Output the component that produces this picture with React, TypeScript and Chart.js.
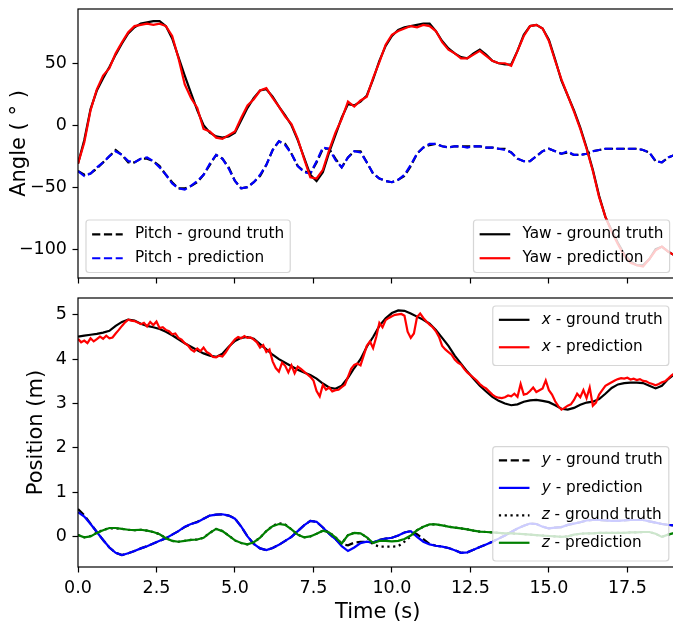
import React, { useEffect, useRef } from 'react';
import { Chart, registerables } from 'chart.js';

Chart.register(...registerables);

const FONT = '"DejaVu Sans", "Liberation Sans", sans-serif';

// ---------------- data ----------------
const timeTicks = [0, 2.5, 5, 7.5, 10, 12.5, 15, 17.5];
const angleTicks = [-100, -50, 0, 50];
const positionTicks = [0, 1, 2, 3, 4, 5];

// sample times (s)
const timeCoarse = Array.from({ length: 97 }, (_, i) => Math.round(i * 2) / 10);
const timeFine = Array.from({ length: 193 }, (_, i) => i / 10);

const yawTruth = [
  -31, -12, 13, 28, 38, 47, 57, 66, 74, 79,
  82, 83, 84, 84, 80, 70, 55, 40, 26, 12,
  0, -6, -9, -10, -9, -6, 4, 14, 22, 28,
  29, 23, 15, 8, 0, -12, -26, -40, -45, -38,
  -22, -8, 6, 17, 16, 19, 24, 37, 52, 64,
  72, 77, 79, 80, 81, 82, 82, 76, 68, 62,
  58, 55, 54, 58, 61, 57, 52, 50, 49, 49,
  60, 73, 80, 81, 78, 69, 53, 36, 24, 12,
  -2, -18, -36, -57, -74, -85, -95, -104, -110, -113,
  -113, -108, -100, -98, -102, -105, -107,
];
const yawPred = [
  -31, -14, 12, 29, 40, 46, 58, 67, 75, 80,
  81, 82, 81, 82, 80, 72, 54, 33, 22, 14,
  -3, -5, -10, -11, -8, -5, 6, 16, 21, 28,
  30, 22, 15, 7, 1, -11, -27, -42, -43, -36,
  -20, -6, 5, 19, 15, 20, 23, 38, 51, 65,
  73, 76, 78, 80, 79, 81, 80, 76, 67, 61,
  58, 54, 54, 57, 60, 56, 52, 50, 50, 48,
  60, 72, 80, 81, 78, 68, 52, 37, 24, 11,
  -3, -19, -37, -58, -74, -86, -96, -105, -111, -113,
  -114, -108, -101, -98, -102, -105, -107,
];
const pitchTruth = [
  -37, -40, -39, -35, -30, -25, -20, -24, -30, -30,
  -27, -27, -29, -33, -40, -46, -51, -51, -49, -46,
  -40, -32, -24, -27, -34, -45, -51, -50, -46, -41,
  -32, -20, -13, -15, -23, -33, -37, -39, -30, -19,
  -19, -27, -34, -26, -21, -21, -30, -39, -43, -45,
  -46, -44, -41, -33, -23, -18, -16, -15, -17, -18,
  -17, -17, -17, -17, -17, -18, -18, -19, -19, -22,
  -27, -29, -29, -25, -21, -19, -21, -23, -22, -24,
  -24, -23, -21, -20, -19, -19, -19, -19, -19, -19,
  -20, -22, -29, -30, -26, -24, -23,
];
const pitchPred = [
  -37, -41, -39, -34, -30, -25, -21, -24, -29, -30,
  -27, -26, -29, -34, -40, -47, -51, -52, -49, -45,
  -40, -31, -24, -27, -35, -45, -51, -50, -46, -40,
  -32, -20, -13, -16, -23, -33, -38, -39, -29, -18,
  -19, -28, -34, -26, -21, -22, -30, -39, -43, -45,
  -46, -44, -40, -32, -23, -18, -15, -15, -17, -18,
  -17, -17, -18, -17, -17, -18, -18, -19, -20, -22,
  -27, -29, -29, -25, -21, -19, -21, -23, -21, -24,
  -24, -23, -21, -20, -19, -19, -19, -19, -19, -19,
  -20, -22, -29, -30, -26, -24, -23,
];

const xTruth = [
  4.51, 4.53, 4.55, 4.57, 4.6, 4.64, 4.75, 4.84, 4.89, 4.87,
  4.8, 4.75, 4.72, 4.68, 4.62, 4.54, 4.45, 4.36, 4.28, 4.2,
  4.13, 4.08, 4.05, 4.12, 4.28, 4.41, 4.48, 4.5, 4.46, 4.34,
  4.22, 4.1, 4.0, 3.92, 3.84, 3.76, 3.7, 3.64, 3.56, 3.45,
  3.36, 3.33, 3.4, 3.58, 3.8, 4.0, 4.28, 4.5, 4.75, 4.92,
  5.04, 5.1, 5.09, 5.03, 4.96, 4.89, 4.8, 4.66, 4.48, 4.3,
  4.08, 3.9, 3.72, 3.56, 3.4, 3.27, 3.15, 3.06, 3.0, 2.96,
  2.98, 3.04, 3.07, 3.08, 3.06, 3.03, 2.96, 2.88, 2.86, 2.9,
  2.97, 3.02, 3.04, 3.1, 3.22, 3.35, 3.43, 3.46, 3.47, 3.47,
  3.46, 3.4, 3.34, 3.4, 3.55, 3.66, 3.72,
];
const xPred = [
  4.46, 4.38, 4.42, 4.36, 4.47, 4.4, 4.45, 4.51, 4.46, 4.53,
  4.47, 4.49, 4.58, 4.66, 4.75, 4.83, 4.89, 4.87, 4.86, 4.83,
  4.79, 4.82, 4.74, 4.84, 4.77, 4.85, 4.7, 4.72, 4.66, 4.63,
  4.56, 4.58, 4.48, 4.44, 4.36, 4.31, 4.22, 4.17, 4.24, 4.18,
  4.26, 4.16, 4.12, 4.05, 4.04, 4.08, 4.06, 4.15, 4.26, 4.36,
  4.45, 4.5, 4.47, 4.52, 4.48, 4.49, 4.44, 4.38, 4.26, 4.32,
  4.16, 4.22, 3.95, 3.8, 3.72, 3.92, 3.85, 3.7, 3.86, 3.68,
  3.83, 3.78, 3.72, 3.66, 3.6, 3.52, 3.28, 3.16, 3.42, 3.31,
  3.36, 3.27, 3.3, 3.31, 3.37, 3.42, 3.6, 3.78, 3.87, 3.9,
  3.86, 4.08, 4.3, 4.4, 4.25, 4.5, 4.82, 4.72, 4.88, 4.93,
  4.97, 5.0, 5.01, 5.02, 4.98, 4.62, 4.48, 4.58, 4.95, 5.03,
  4.93, 4.85, 4.78, 4.72, 4.63, 4.5, 4.3, 4.22, 4.16, 4.1,
  3.99, 3.92, 3.88, 3.78, 3.7, 3.64, 3.58, 3.52, 3.44, 3.38,
  3.34, 3.27, 3.2, 3.15, 3.13, 3.12, 3.14, 3.18, 3.16, 3.22,
  3.15, 3.44, 3.2, 3.22, 3.28, 3.36, 3.26, 3.3, 3.34, 3.52,
  3.3, 3.2, 3.05, 2.94, 2.86, 2.9, 2.95, 2.98, 3.08, 3.22,
  3.14, 3.3, 3.12, 3.36, 2.95, 3.02, 3.2, 3.3, 3.4, 3.44,
  3.48, 3.52, 3.55, 3.57, 3.56, 3.58, 3.54, 3.56, 3.53, 3.55,
  3.51, 3.5, 3.46, 3.44, 3.41, 3.44, 3.48, 3.5, 3.56, 3.63,
  3.68, 3.7, 3.72,
];
const yTruth = [
  0.62, 0.48, 0.29, 0.1, -0.08, -0.25, -0.37, -0.42, -0.38, -0.33,
  -0.27, -0.22, -0.16, -0.1, -0.04, 0.04, 0.12, 0.21, 0.28, 0.33,
  0.4, 0.47, 0.49, 0.5, 0.47, 0.41, 0.22, 0.0, -0.17, -0.27,
  -0.31, -0.26, -0.19, -0.1, -0.01, 0.12, 0.25, 0.35, 0.33, 0.2,
  0.06, -0.06, -0.18, -0.2, -0.14, -0.12, -0.12, -0.14, -0.08, -0.05,
  -0.03, 0.02, 0.09, 0.12, 0.05, -0.06, -0.17, -0.21, -0.23, -0.26,
  -0.31, -0.37, -0.36, -0.3, -0.24, -0.18, -0.12, -0.05, 0.02, 0.1,
  0.18, 0.24, 0.29, 0.28, 0.22, 0.18, 0.2, 0.21, 0.26, 0.29,
  0.32, 0.36, 0.37, 0.37, 0.36, 0.35, 0.35, 0.36, 0.37, 0.37,
  0.37, 0.34, 0.31, 0.28, 0.26, 0.25, 0.25,
];
const yPred = [
  0.55, 0.45, 0.28, 0.1, -0.08, -0.25, -0.37, -0.42, -0.38, -0.33,
  -0.27, -0.22, -0.16, -0.1, -0.04, 0.04, 0.12, 0.22, 0.28, 0.32,
  0.4, 0.47, 0.49, 0.5, 0.47, 0.4, 0.22, 0.0, -0.17, -0.27,
  -0.31, -0.26, -0.19, -0.1, -0.01, 0.12, 0.25, 0.35, 0.33, 0.2,
  0.06, -0.06, -0.22, -0.33, -0.25, -0.15, -0.12, -0.14, -0.08, -0.05,
  -0.03, 0.02, 0.09, 0.12, -0.01, -0.12, -0.18, -0.21, -0.23, -0.26,
  -0.31, -0.37, -0.36, -0.3, -0.24, -0.18, -0.12, -0.05, 0.02, 0.1,
  0.18, 0.24, 0.29, 0.28, 0.22, 0.18, 0.2, 0.21, 0.26, 0.29,
  0.32, 0.36, 0.37, 0.37, 0.36, 0.35, 0.35, 0.36, 0.37, 0.37,
  0.37, 0.34, 0.31, 0.28, 0.26, 0.25, 0.25,
];
const zTruth = [
  0.03, -0.02, 0.01, 0.08, 0.15, 0.18, 0.18, 0.17, 0.15, 0.14,
  0.15, 0.13, 0.1, 0.05, -0.04, -0.1, -0.12, -0.1, -0.08, -0.07,
  -0.03, 0.08, 0.17, 0.12, 0.02, -0.09, -0.15, -0.18, -0.13, -0.03,
  0.12, 0.24, 0.3, 0.27, 0.16, 0.04, -0.02, 0.0, 0.06, 0.13,
  0.1, -0.02, -0.16, 0.03, 0.08, 0.07, -0.02, -0.18, -0.23, -0.23,
  -0.23, -0.22, -0.12, 0.0, 0.14, 0.22, 0.27, 0.27, 0.25, 0.22,
  0.2, 0.18, 0.16, 0.13, 0.11, 0.1, 0.09, 0.08, 0.07, 0.07,
  0.06, 0.05, 0.04, 0.03, 0.02, 0.01, 0.0, -0.01, 0.0, 0.04,
  0.06, 0.07, 0.07, 0.08, 0.08, 0.08, 0.08, 0.08, 0.09, 0.09,
  0.1, 0.1, 0.06, -0.01, 0.04, 0.08, 0.09,
];
const zPred = [
  0.03, -0.02, 0.0, 0.08, 0.14, 0.19, 0.19, 0.17, 0.15, 0.14,
  0.15, 0.13, 0.1, 0.05, -0.04, -0.1, -0.12, -0.1, -0.08, -0.07,
  -0.03, 0.08, 0.17, 0.12, 0.02, -0.09, -0.15, -0.18, -0.13, -0.03,
  0.12, 0.23, 0.28, 0.26, 0.16, 0.04, -0.02, 0.0, 0.06, 0.13,
  0.09, -0.02, -0.16, 0.03, 0.08, 0.07, -0.02, -0.15, -0.1, -0.1,
  -0.11, -0.1, -0.06, 0.02, 0.14, 0.22, 0.27, 0.27, 0.25, 0.22,
  0.2, 0.18, 0.16, 0.13, 0.11, 0.1, 0.09, 0.08, 0.07, 0.07,
  0.06, 0.05, 0.04, 0.03, 0.02, 0.01, 0.0, -0.01, 0.0, 0.04,
  0.06, 0.07, 0.07, 0.08, 0.08, 0.08, 0.08, 0.08, 0.09, 0.09,
  0.1, 0.1, 0.06, -0.01, 0.04, 0.08, 0.09,
];

// ---------------- styling ----------------
const LW = 2.2;
const DASHED = [8.2, 3.6];
const DOTTED = [2.2, 3.6];
const TICK_FONT = 17.5;
const LABEL_FONT = 21;
const LEGEND_FONT = 15.3;
const CANVAS_W = 690;
const X_MAX = 19.1;

type LegendItem = { sym?: string; text: string; color: string; dash: number[] };
type LegendSpec = {
  items: LegendItem[];
  anchor: 'll' | 'lr' | 'ur';
  dx: number;
  dy: number;
  rowH: number;
  yShift: number;
};

const pts = (ts: number[], ys: number[]) => ys.map((y, i) => ({ x: ts[i], y }));

const line = (label: string, ts: number[], ys: number[], color: string, dash: number[]) => ({
  label,
  data: pts(ts, ys),
  borderColor: color,
  backgroundColor: color,
  borderWidth: LW,
  borderDash: dash,
  pointRadius: 0,
  tension: 0,
  fill: false,
  clip: 0,
});

function roundRect(ctx: CanvasRenderingContext2D, x: number, y: number, w: number, h: number, r: number) {
  ctx.beginPath();
  ctx.moveTo(x + r, y);
  ctx.lineTo(x + w - r, y);
  ctx.arcTo(x + w, y, x + w, y + r, r);
  ctx.lineTo(x + w, y + h - r);
  ctx.arcTo(x + w, y + h, x + w - r, y + h, r);
  ctx.lineTo(x + r, y + h);
  ctx.arcTo(x, y + h, x, y + h - r, r);
  ctx.lineTo(x, y + r);
  ctx.arcTo(x, y, x + r, y, r);
  ctx.closePath();
}

const mplPlugin = {
  id: 'mpl',
  afterDraw(chart: any, _args: any, opts: any) {
    const ctx: CanvasRenderingContext2D = chart.ctx;
    const ca = chart.chartArea;
    // axes frame
    ctx.save();
    ctx.strokeStyle = '#000';
    ctx.lineWidth = 1.2;
    ctx.setLineDash([]);
    ctx.strokeRect(ca.left, ca.top, ca.right - ca.left, ca.bottom - ca.top);
    ctx.restore();

    const legends: LegendSpec[] = opts.legends || [];
    const fs = LEGEND_FONT;
    const pad = 0.4 * fs;
    const handleLen = 2 * fs;
    const gap = 0.8 * fs;
    const spacing = 0.5 * fs;
    const normalFont = `${fs}px ${FONT}`;
    const italicFont = `oblique ${fs}px ${FONT}`;
    for (const lg of legends) {
      ctx.save();
      let maxW = 0;
      lg.items.forEach((it) => {
        let w = 0;
        if (it.sym) {
          ctx.font = italicFont;
          w += ctx.measureText(it.sym).width;
        }
        ctx.font = normalFont;
        w += ctx.measureText(it.text).width;
        maxW = Math.max(maxW, w);
      });
      const n = lg.items.length;
      const w = pad * 2 + handleLen + gap + maxW;
      const h = pad * 2 + n * lg.rowH + (n - 1) * spacing;
      let x0 = 0;
      let y0 = 0;
      if (lg.anchor === 'll') {
        x0 = ca.left + lg.dx;
        y0 = ca.bottom - lg.dy - h;
      } else if (lg.anchor === 'lr') {
        x0 = ca.right - lg.dx - w;
        y0 = ca.bottom - lg.dy - h;
      } else {
        x0 = ca.right - lg.dx - w;
        y0 = ca.top + lg.dy;
      }
      roundRect(ctx, x0, y0, w, h, 3);
      ctx.fillStyle = 'rgba(255,255,255,0.8)';
      ctx.fill();
      ctx.strokeStyle = 'rgba(204,204,204,0.8)';
      ctx.lineWidth = 1.2;
      ctx.stroke();
      lg.items.forEach((it, i) => {
        const cy = y0 + pad + lg.rowH / 2 + i * (lg.rowH + spacing) + lg.yShift;
        ctx.beginPath();
        ctx.setLineDash(it.dash);
        ctx.lineDashOffset = 0;
        ctx.strokeStyle = it.color;
        ctx.lineWidth = LW;
        ctx.lineCap = 'butt';
        ctx.moveTo(x0 + pad, cy);
        ctx.lineTo(x0 + pad + handleLen, cy);
        ctx.stroke();
        ctx.setLineDash([]);
        let tx = x0 + pad + handleLen + gap;
        ctx.fillStyle = '#000';
        ctx.textBaseline = 'middle';
        ctx.textAlign = 'left';
        if (it.sym) {
          ctx.font = italicFont;
          ctx.fillText(it.sym, tx, cy);
          tx += ctx.measureText(it.sym).width;
        }
        ctx.font = normalFont;
        ctx.fillText(it.text, tx, cy);
      });
      ctx.restore();
    }
  },
};

const fmtMinus = (v: number) => (v < 0 ? '\u2212' + Math.abs(v) : String(v));

function xScale(showLabels: boolean, height: number) {
  return {
    type: 'linear',
    min: 0,
    max: X_MAX,
    afterBuildTicks: (s: any) => {
      s.ticks = timeTicks.map((v) => ({ value: v }));
    },
    afterFit: (s: any) => {
      s.height = height;
      s.paddingLeft = 0;
      s.paddingRight = 0;
      s.paddingTop = 0;
      s.paddingBottom = 0;
    },
    grid: { display: true, drawOnChartArea: false, drawTicks: true, tickLength: 5.5, tickColor: '#000', tickWidth: 1.2 },
    border: { display: false },
    ticks: {
      autoSkip: false,
      maxRotation: 0,
      padding: 5,
      color: showLabels ? '#000' : 'rgba(0,0,0,0)',
      font: { family: FONT, size: TICK_FONT },
      callback: (v: number) => v.toFixed(1),
    },
    title: showLabels
      ? { display: true, text: 'Time (s)', color: '#000', font: { family: FONT, size: LABEL_FONT }, padding: { top: 0, bottom: 0 } }
      : { display: false },
  };
}

function yScale(min: number, max: number, ticks: number[], title: string, titlePad: number) {
  return {
    type: 'linear',
    min,
    max,
    afterBuildTicks: (s: any) => {
      s.ticks = ticks.map((v) => ({ value: v }));
    },
    afterFit: (s: any) => {
      s.width = 78;
      s.paddingLeft = 0;
      s.paddingRight = 0;
      s.paddingTop = 0;
      s.paddingBottom = 0;
    },
    grid: { display: true, drawOnChartArea: false, drawTicks: true, tickLength: 5.5, tickColor: '#000', tickWidth: 1.2 },
    border: { display: false },
    ticks: {
      autoSkip: false,
      padding: 5.5,
      color: '#000',
      font: { family: FONT, size: TICK_FONT },
      callback: (v: number) => fmtMinus(v),
    },
    title: { display: true, text: title, color: '#000', font: { family: FONT, size: LABEL_FONT }, padding: { top: titlePad, bottom: 0 } },
  };
}

const topLegends: LegendSpec[] = [
  {
    anchor: 'll', dx: 8, dy: 5.5, rowH: 16.3, yShift: 0,
    items: [
      { text: 'Pitch - ground truth', color: '#000000', dash: DASHED },
      { text: 'Pitch - prediction', color: '#0000ff', dash: DASHED },
    ],
  },
  {
    anchor: 'lr', dx: 8, dy: 5.5, rowH: 16.3, yShift: 0,
    items: [
      { text: 'Yaw - ground truth', color: '#000000', dash: [] },
      { text: 'Yaw - prediction', color: '#ff0000', dash: [] },
    ],
  },
];

const bottomLegends: LegendSpec[] = [
  {
    anchor: 'ur', dx: 8.8, dy: 8, rowH: 19.8, yShift: -2.2,
    items: [
      { sym: 'x', text: ' - ground truth', color: '#000000', dash: [] },
      { sym: 'x', text: ' - prediction', color: '#ff0000', dash: [] },
    ],
  },
  {
    anchor: 'lr', dx: 8.8, dy: 6, rowH: 19.8, yShift: -2.2,
    items: [
      { sym: 'y', text: ' - ground truth', color: '#000000', dash: DASHED },
      { sym: 'y', text: ' - prediction', color: '#0000ff', dash: [] },
      { sym: 'z', text: ' - ground truth', color: '#000000', dash: DOTTED },
      { sym: 'z', text: ' - prediction', color: '#008000', dash: [] },
    ],
  },
];

function makeTopConfig(): any {
  return {
    type: 'line',
    data: {
      // first dataset is drawn on top
      datasets: [
        line('Yaw - prediction', timeCoarse, yawPred, '#ff0000', []),
        line('Yaw - ground truth', timeCoarse, yawTruth, '#000000', []),
        line('Pitch - prediction', timeCoarse, pitchPred, '#0000ff', DASHED),
        line('Pitch - ground truth', timeCoarse, pitchTruth, '#000000', DASHED),
      ],
    },
    options: {
      responsive: false,
      animation: false,
      events: [],
      layout: { padding: { left: 0, right: CANVAS_W - 677.6, top: 9, bottom: 0 } },
      plugins: { legend: { display: false }, tooltip: { enabled: false }, mpl: { legends: topLegends } },
      scales: {
        x: xScale(false, 12),
        y: yScale(-123.3, 93.8, angleTicks, 'Angle ( \u00B0 )', 7.4),
      },
    },
    plugins: [mplPlugin],
  };
}

function makeBottomConfig(): any {
  return {
    type: 'line',
    data: {
      datasets: [
        line('z - prediction', timeCoarse, zPred, '#008000', []),
        line('z - ground truth', timeCoarse, zTruth, '#000000', DOTTED),
        line('y - prediction', timeCoarse, yPred, '#0000ff', []),
        line('y - ground truth', timeCoarse, yTruth, '#000000', DASHED),
        line('x - prediction', timeFine, xPred, '#ff0000', []),
        line('x - ground truth', timeCoarse, xTruth, '#000000', []),
      ],
    },
    options: {
      responsive: false,
      animation: false,
      events: [],
      layout: { padding: { left: 0, right: CANVAS_W - 677.6, top: 8, bottom: 0 } },
      plugins: { legend: { display: false }, tooltip: { enabled: false }, mpl: { legends: bottomLegends } },
      scales: {
        x: xScale(true, 58),
        y: yScale(-0.69, 5.38, positionTicks, 'Position (m)', 24),
      },
    },
    plugins: [mplPlugin],
  };
}

function ChartCanvas({ height, make }: { height: number; make: () => any }) {
  const ref = useRef<HTMLCanvasElement | null>(null);
  useEffect(() => {
    if (!ref.current) return;
    const chart = new Chart(ref.current, make());
    return () => chart.destroy();
  }, [make]);
  return <canvas ref={ref} width={CANVAS_W} height={height} style={{ display: 'block', width: CANVAS_W, height }} />;
}

export default function App() {
  return (
    <div
      style={{
        position: 'absolute',
        left: 0,
        top: 0,
        width: 673,
        height: 625,
        overflow: 'hidden',
        background: '#ffffff',
      }}
    >
      <ChartCanvas height={290} make={makeTopConfig} />
      <ChartCanvas height={335} make={makeBottomConfig} />
    </div>
  );
}
